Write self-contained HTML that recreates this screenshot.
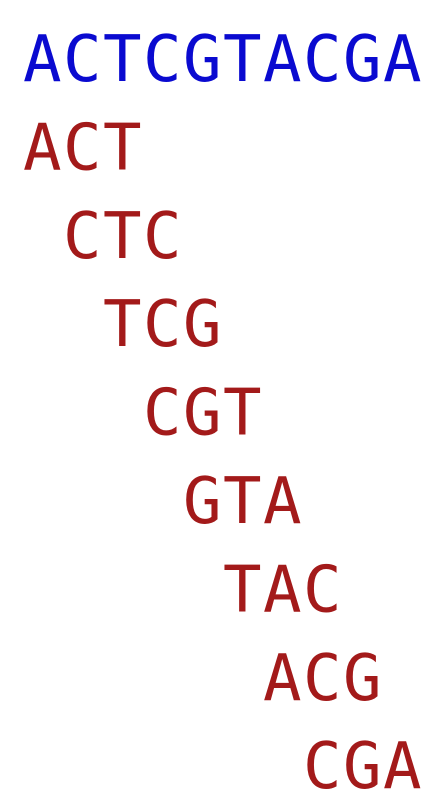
<!DOCTYPE html>
<html><head><meta charset="utf-8"><style>
html,body{margin:0;padding:0;background:#fff;width:440px;height:805px;overflow:hidden}
svg text{font-family:"DejaVu Sans Mono","Liberation Mono",monospace;font-size:64px}
</style></head><body>
<svg width="440" height="805">
<text id="seq" fill="#0a0ad0"></text>
<g id="kmers"></g>
</svg>
<script>
const sequence = "ACTCGTACGA";
const k = 3;
const x0 = 22, step = 40, y0 = 81, rowStep = 88.4;
function xs(start, len){const a=[];for(let i=0;i<len;i++)a.push(x0+(start+i)*step+1);return a.join(' ');}
const seq=document.getElementById('seq');
seq.setAttribute('x', xs(0, sequence.length));
seq.setAttribute('y', y0);
seq.textContent = sequence;
const g=document.getElementById('kmers');
for(let i=0;i+k<=sequence.length;i++){
  const t=document.createElementNS('http://www.w3.org/2000/svg','text');
  
  
  t.setAttribute('x', xs(i,k));
  t.setAttribute('y', y0 + (i+1)*rowStep);
  t.setAttribute('fill', '#a31a1a');
  t.textContent = sequence.substr(i,k);
  g.appendChild(t);
}
</script>
</body></html>
